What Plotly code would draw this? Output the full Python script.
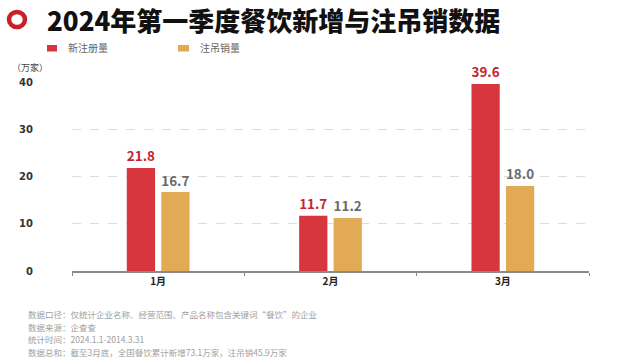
import plotly.graph_objects as go

months = ["1月", "2月", "3月"]
new_reg = [21.8, 11.7, 39.6]
cancel = [16.7, 11.2, 18.0]
series_names = ["新注册量", "注吊销量"]
y_ticks = [0, 10, 20, 30, 40]
title_text = "2024年第一季度餐饮新增与注吊销数据"
unit_text = "（万家）"
footer_lines = [
    "数据口径：仅统计企业名称、经营范围、产品名称包含关键词“餐饮”的企业",
    "数据来源：企查查",
    "统计时间：2024.1.1-2014.3.31",
    "数据总和：截至3月底，全国餐饮累计新增73.1万家，注吊销45.9万家",
]

W, H = 621, 364
ML, MR, MT, MB = 72, 32, 82, 93
PW, PH = W - ML - MR, H - MT - MB
FONT = "Noto Sans CJK SC, Noto Sans, sans-serif"
RED = "#d8363f"
GOLD = "#e2aa55"


def px(x):
    return (x - ML) / PW


def py(y):
    return (H - MB - y) / PH


fig = go.Figure()
fig.add_trace(go.Bar(
    x=months, y=new_reg, name=series_names[0],
    marker=dict(color=RED, line=dict(width=0)),
    text=[f"{v:.1f}" for v in new_reg], textposition="outside",
    textfont=dict(family=FONT, size=15, color="#c4242f", weight="bold"),
    cliponaxis=False,
))
fig.add_trace(go.Bar(
    x=months, y=cancel, name=series_names[1],
    marker=dict(color=GOLD, line=dict(width=0)),
    text=[f"{v:.1f}" for v in cancel], textposition="outside",
    textfont=dict(family=FONT, size=15, color="#6a6a6a", weight="bold"),
    cliponaxis=False,
))

shapes = [
    dict(type="circle", xref="paper", yref="paper",
         x0=px(9), x1=px(25), y0=py(27), y1=py(12),
         line=dict(color="#c8202a", width=4.5), fillcolor="white"),
    dict(type="rect", xref="paper", yref="paper",
         x0=px(47), x1=px(57), y0=py(51.5), y1=py(45),
         line=dict(width=0), fillcolor=RED),
    dict(type="rect", xref="paper", yref="paper",
         x0=px(178), x1=px(189), y0=py(51.5), y1=py(45),
         line=dict(width=0), fillcolor=GOLD),
]

annotations = [
    dict(text=title_text, x=px(45), y=py(19), xref="paper", yref="paper",
         xanchor="left", yanchor="middle", showarrow=False,
         font=dict(family=FONT, size=26, color="#111111", weight=900)),
    dict(text=series_names[0], x=px(66), y=py(48), xref="paper", yref="paper",
         xanchor="left", yanchor="middle", showarrow=False,
         font=dict(family=FONT, size=10, color="#666666")),
    dict(text=series_names[1], x=px(198), y=py(48), xref="paper", yref="paper",
         xanchor="left", yanchor="middle", showarrow=False,
         font=dict(family=FONT, size=10, color="#666666")),
    dict(text=unit_text, x=px(10), y=py(68), xref="paper", yref="paper",
         xanchor="left", yanchor="middle", showarrow=False,
         font=dict(family=FONT, size=9, color="#444444")),
]
for i, line in enumerate(footer_lines):
    annotations.append(dict(
        text=line, x=px(26), y=py(314 + 12.6 * i), xref="paper", yref="paper",
        xanchor="left", yanchor="middle", showarrow=False,
        font=dict(family=FONT, size=8.5, color="#a0a0a0")))

fig.update_layout(
    width=W, height=H,
    margin=dict(l=ML, r=MR, t=MT, b=MB, pad=0),
    paper_bgcolor="white", plot_bgcolor="white",
    showlegend=False,
    barmode="group", bargap=0.6, bargroupgap=0.18,
    font=dict(family=FONT),
    shapes=shapes, annotations=annotations,
    xaxis=dict(
        showgrid=False, showline=True, linecolor="#8a8a8a", linewidth=1.5,
        ticks="outside", tickson="boundaries", ticklen=3, tickcolor="#8a8a8a",
        tickfont=dict(family=FONT, size=10, color="#222222", weight="bold"),
        zeroline=False, fixedrange=True,
    ),
    yaxis=dict(
        range=[0, 40], tickvals=y_ticks,
        showgrid=True, gridcolor="#dddddd", griddash="dash", gridwidth=1,
        zeroline=False, showline=False, ticks="", ticklabelstandoff=38,
        tickfont=dict(family="DejaVu Sans, sans-serif", size=10, color="#333333", weight="bold"),
        fixedrange=True,
    ),
)

fig.write_html("out.html", config={"displayModeBar": False},
               post_script="document.body.style.margin='0';")
